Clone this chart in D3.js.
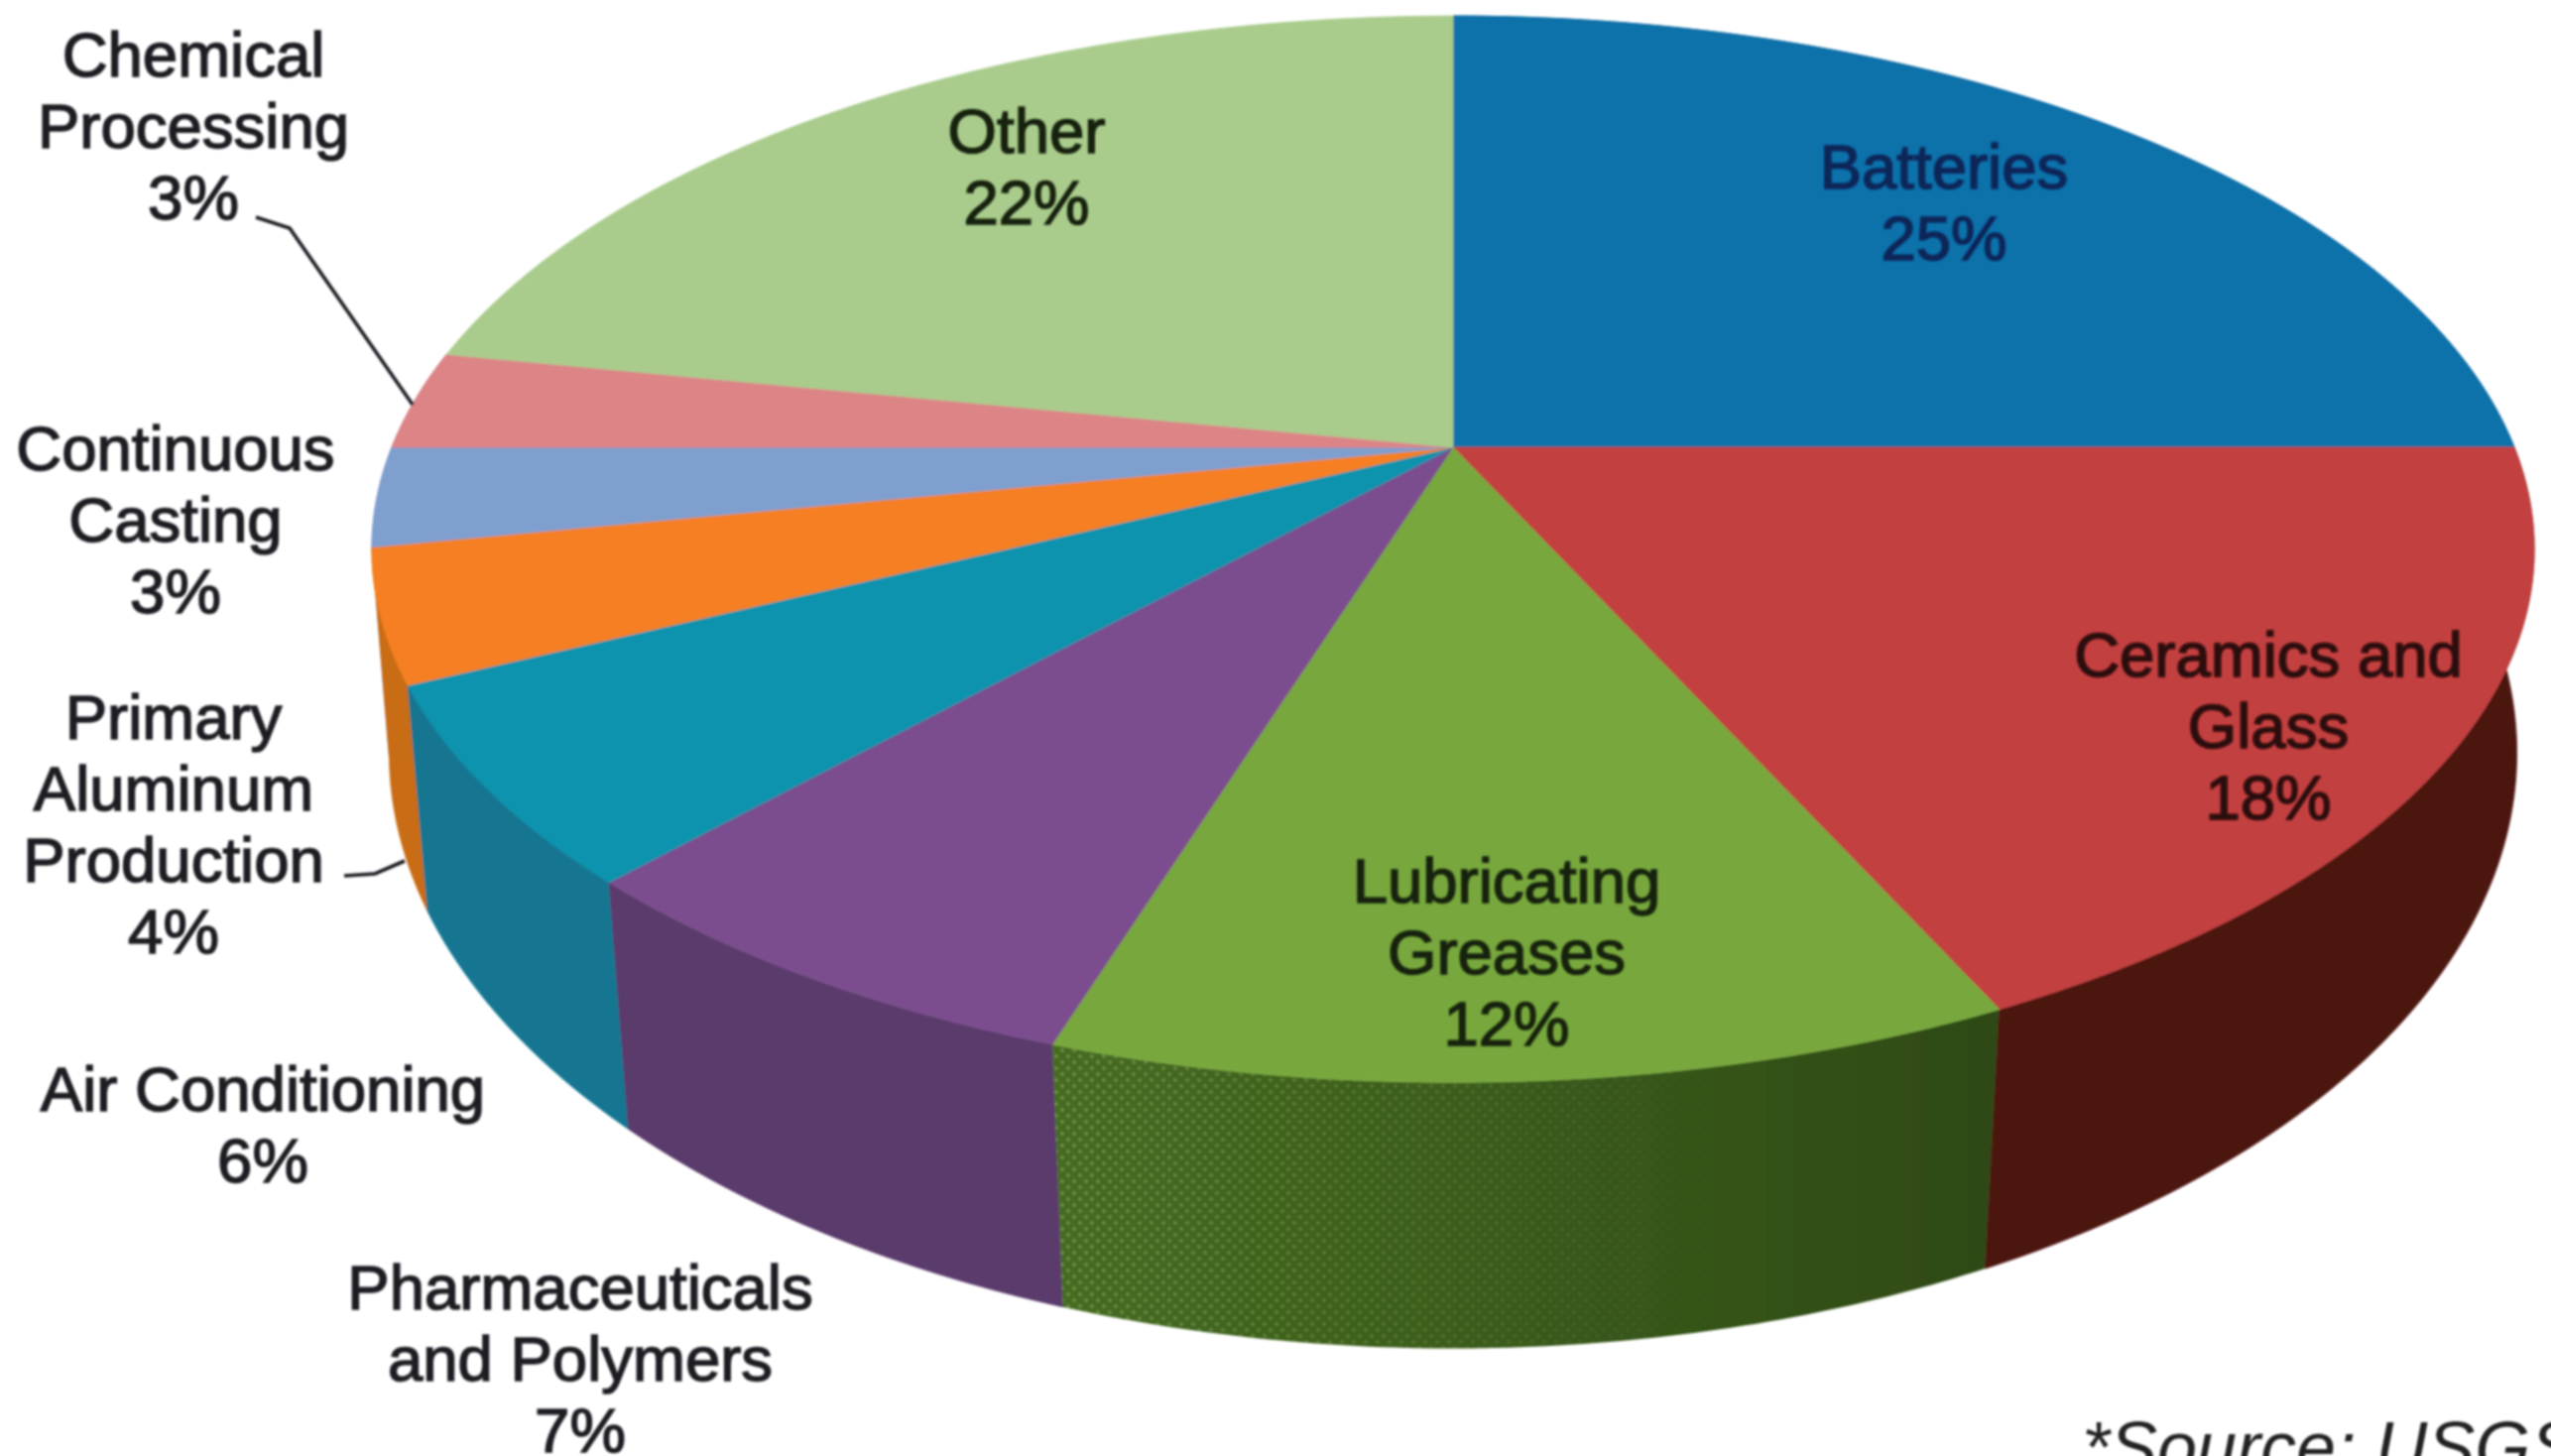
<!DOCTYPE html>
<html lang="en">
<head>
<meta charset="UTF-8">
<title>Lithium end uses</title>
<script src="https://d3js.org/d3.v7.min.js"></script>
<style>
  html, body { margin: 0; padding: 0; background: #fff; overflow: hidden; }
  svg { display: block; }
  text { font-family: "Liberation Sans", Arial, sans-serif; font-size: 63.5px; text-anchor: middle; }
</style>
</head>
<body>
<div id="container"></div>
<script>
// data, clockwise from 12 o'clock
const categories = ['Batteries', 'Ceramics and Glass', 'Lubricating Greases', 'Pharmaceuticals and Polymers',
  'Air Conditioning', 'Primary Aluminum Production', 'Continuous Casting', 'Chemical Processing', 'Other'];
const values = [25, 18, 12, 7, 6, 4, 3, 3, 22];
const labelLines = [['Batteries'], ['Ceramics and', 'Glass'], ['Lubricating', 'Greases'], ['Pharmaceuticals', 'and Polymers'],
  ['Air Conditioning'], ['Primary', 'Aluminum', 'Production'], ['Continuous', 'Casting'], ['Chemical', 'Processing'], ['Other']];

// styles
const topColors = ['#0d71aa', '#c2403f', '#78a83c', '#7c4e8e', '#0a93ad', '#f57f20', '#7f9fcf', '#dd8487', '#a9cc8c'];
const wallColors = ['#0a5480', '#4c120f', '#34531a', '#5a3a6c', '#127692', '#c96c12', '#5f7ca8', '#a86063', '#7f9c66'];
const labelColors = ['#0a2558', '#2a0808', '#16240a', '#1c1c22', '#1c1c22', '#1c1c22', '#1c1c22', '#1c1c22', '#14200c'];
const labelX = [1960, 2287, 1519, 585, 265, 175, 177, 195, 1035];
const labelY = [190, 682, 910, 1320, 1120, 745, 474, 77, 154];
const lineStep = 72;

const width = 2572, height = 1468;
const cx = 1465;

// perspective circle: far side is squeezed by k, same idea for the bottom rim
const topFace = { y0: 451, a: 1070, b: 518, k: 0.191 };
const bottomFace = { y0: 651, a: 1055, b: 581, k: 0.18 };

function project(face, angle) {
  const u = Math.sin(angle), v = Math.cos(angle);
  const d = 1 + face.k * v;
  return [cx + face.a * u / d, face.y0 - face.b * v / d];
}

function arcPoints(face, a0, a1) {
  const n = Math.max(2, Math.ceil((a1 - a0) / 0.01));
  return d3.range(n + 1).map(i => project(face, a0 + (a1 - a0) * i / n));
}

const line = d3.line();
const slices = d3.pie().sort(null).startAngle(0).endAngle(2 * Math.PI)(values);

const svg = d3.select('#container').append('svg')
  .attr('width', width).attr('height', height);

const defs = svg.append('defs');
defs.append('filter').attr('id', 'soft').attr('x', '-5%').attr('y', '-5%').attr('width', '110%').attr('height', '110%')
  .append('feGaussianBlur').attr('stdDeviation', 1.3);
defs.append('filter').attr('id', 'softText').attr('x', '-10%').attr('y', '-10%').attr('width', '120%').attr('height', '120%')
  .append('feGaussianBlur').attr('stdDeviation', 1);

// dotted print pattern on the green wall
const dots = defs.append('pattern').attr('id', 'dots').attr('width', 12).attr('height', 12)
  .attr('patternUnits', 'userSpaceOnUse');
dots.append('circle').attr('cx', 3).attr('cy', 3).attr('r', 1.8).attr('fill', '#7fa653');
dots.append('circle').attr('cx', 9).attr('cy', 9).attr('r', 1.8).attr('fill', '#7fa653');

const wallGrad = defs.append('linearGradient').attr('id', 'greenWall')
  .attr('gradientUnits', 'userSpaceOnUse')
  .attr('x1', 1065).attr('x2', 2010).attr('y1', 0).attr('y2', 0);
wallGrad.append('stop').attr('offset', 0).attr('stop-color', '#466b22');
wallGrad.append('stop').attr('offset', 0.5).attr('stop-color', '#3a5a1c');
wallGrad.append('stop').attr('offset', 1).attr('stop-color', '#2e4a14');

const fade = defs.append('linearGradient').attr('id', 'dotFade')
  .attr('gradientUnits', 'userSpaceOnUse')
  .attr('x1', 1065).attr('x2', 1750).attr('y1', 0).attr('y2', 0);
fade.append('stop').attr('offset', 0).attr('stop-color', '#fff').attr('stop-opacity', 0.75);
fade.append('stop').attr('offset', 1).attr('stop-color', '#fff').attr('stop-opacity', 0);
defs.append('mask').attr('id', 'dotMask').attr('maskUnits', 'userSpaceOnUse')
  .attr('x', 0).attr('y', 0).attr('width', width).attr('height', height)
  .append('rect').attr('width', width).attr('height', height).attr('fill', 'url(#dotFade)');

const pie = svg.append('g').attr('filter', 'url(#soft)');

function wallPath(d) {
  const upper = arcPoints(topFace, d.startAngle, d.endAngle);
  const lower = arcPoints(bottomFace, d.startAngle, d.endAngle).reverse();
  return line(upper.concat(lower)) + 'Z';
}

function facePath(d) {
  return line([[cx, topFace.y0]].concat(arcPoints(topFace, d.startAngle, d.endAngle))) + 'Z';
}

// side walls: only the front half shows, painted left to right over each other
const frontWalls = slices.filter(d => d.endAngle > Math.PI / 2 && d.startAngle < 3 * Math.PI / 2 + 0.01)
  .sort((a, b) => b.startAngle - a.startAngle);

pie.selectAll('path.wall')
  .data(frontWalls)
  .enter()
  .append('path')
  .attr('class', 'wall')
  .attr('d', wallPath)
  .attr('fill', d => d.index === 2 ? 'url(#greenWall)' : wallColors[d.index])
  .attr('stroke', d => d.index === 2 ? 'none' : wallColors[d.index])
  .attr('stroke-width', 0.8);

pie.selectAll('path.dots')
  .data(slices.filter(d => d.index === 2))
  .enter()
  .append('path')
  .attr('class', 'dots')
  .attr('d', wallPath)
  .attr('fill', 'url(#dots)')
  .attr('mask', 'url(#dotMask)');

pie.selectAll('path.face')
  .data(slices)
  .enter()
  .append('path')
  .attr('class', 'face')
  .attr('d', facePath)
  .attr('fill', d => topColors[d.index])
  .attr('stroke', d => topColors[d.index])
  .attr('stroke-width', 0.8);

const ink = svg.append('g').attr('filter', 'url(#softText)');

// leader lines for the two thin slices
const leaders = [
  [[258, 219], [292, 230], [416, 408]],
  [[347, 883], [378, 881], [408, 868]]
];
ink.selectAll('path.leader')
  .data(leaders)
  .enter()
  .append('path')
  .attr('class', 'leader')
  .attr('d', d3.line())
  .attr('fill', 'none')
  .attr('stroke', '#1c1c22')
  .attr('stroke-width', 3.6);

const labels = ink.selectAll('text.label')
  .data(slices)
  .enter()
  .append('text')
  .attr('class', 'label')
  .attr('x', d => labelX[d.index])
  .attr('y', d => labelY[d.index])
  .attr('fill', d => labelColors[d.index])
  .attr('stroke', d => labelColors[d.index])
  .attr('stroke-width', 1.5);

labels.selectAll('tspan')
  .data(d => labelLines[d.index].concat([d.value + '%']).map(t => ({ t: t, x: labelX[d.index] })))
  .enter()
  .append('tspan')
  .attr('x', d => d.x)
  .attr('dy', (d, i) => i === 0 ? 0 : lineStep)
  .text(d => d.t);

ink.append('text')
  .attr('x', 2099)
  .attr('y', 1484)
  .attr('fill', '#222')
  .style('text-anchor', 'start')
  .style('font-style', 'italic')
  .style('font-size', '72px')
  .text('*Source: USGS');
</script>
</body>
</html>
